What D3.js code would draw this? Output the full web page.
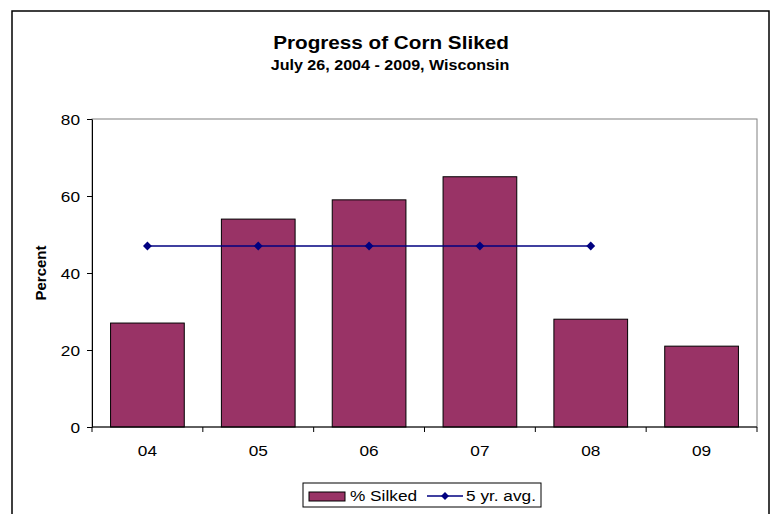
<!DOCTYPE html>
<html>
<head>
<meta charset="utf-8">
<title>Progress of Corn Silked</title>
<style>
  body { margin: 0; background: #fff; }
  svg text { font-family: 'Liberation Sans', Arial, sans-serif; fill: #000; }
</style>
<script src="https://d3js.org/d3.v7.min.js"></script>
</head>
<body>
<svg id="chart" width="775" height="514"></svg>
<script>
// data
var years = ["04", "05", "06", "07", "08", "09"];
var silked = [27, 54, 59, 65, 28, 21];
var avgYears = ["04", "05", "06", "07", "08"];
var avg5 = [47, 47, 47, 47, 47];
var yTicks = [0, 20, 40, 60, 80];

var svg = d3.select("#chart");
var pl = 92, pr = 757, pt = 119, pb = 427;
var SX = 1.15; // the original picture is a bit stretched sideways

// text helper, stretched horizontally like the reference
function label(g, x, y, str, size, anchor, bold) {
  return g.append("text")
    .attr("transform", "translate(" + x + "," + y + ") scale(" + SX + ",1)")
    .attr("text-anchor", anchor || "start")
    .attr("font-size", size)
    .attr("font-weight", bold ? "bold" : "normal")
    .text(str);
}

// outer frame (no bottom edge visible)
svg.append("path")
  .attr("d", "M12,520 V11 H769 V520")
  .attr("fill", "none")
  .attr("stroke", "#000")
  .attr("stroke-width", 1.5);

label(svg, 391, 49, "Progress of Corn Sliked", 18, "middle", true);
label(svg, 390, 70, "July 26, 2004 - 2009, Wisconsin", 14, "middle", true);

var x = d3.scaleBand().domain(years).range([pl, pr]).paddingInner(0.335).paddingOuter(0.1675);
var y = d3.scaleLinear().domain([0, 80]).range([pb, pt]);

// plot area border (grey)
svg.append("rect")
  .attr("x", pl).attr("y", pt).attr("width", pr - pl).attr("height", pb - pt)
  .attr("fill", "none").attr("stroke", "#808080").attr("stroke-width", 1);

// bars
svg.selectAll("rect.bar").data(silked).enter().append("rect")
  .attr("class", "bar")
  .attr("x", function(d, i) { return x(years[i]); })
  .attr("y", function(d) { return y(d); })
  .attr("width", x.bandwidth())
  .attr("height", function(d) { return y(0) - y(d); })
  .attr("fill", "#993366")
  .attr("stroke", "#000")
  .attr("stroke-width", 1);

// 5 yr avg line
var xc = function(k) { return x(k) + x.bandwidth() / 2; };
svg.append("path")
  .datum(avg5)
  .attr("fill", "none").attr("stroke", "#000080").attr("stroke-width", 1.5)
  .attr("d", d3.line().x(function(d, i) { return xc(avgYears[i]); }).y(function(d) { return y(d); }));
svg.selectAll("path.mk").data(avg5).enter().append("path")
  .attr("class", "mk")
  .attr("transform", function(d, i) { return "translate(" + xc(avgYears[i]) + "," + y(d) + ")"; })
  .attr("d", d3.symbol().type(d3.symbolDiamond2).size(50))
  .attr("fill", "#000080");

// y axis
var yAxis = svg.append("g").attr("transform", "translate(" + pl + ",0)")
  .call(d3.axisLeft(y).tickValues(yTicks).tickSize(5).tickSizeOuter(0));
yAxis.select(".domain").attr("stroke", "#000");
yAxis.selectAll(".tick text").remove();
yAxis.selectAll(".tick").each(function(d) {
  label(d3.select(this), -12, 5.5, d, 15, "end", false);
});

// x axis: ticks between categories
var xAxis = svg.append("g").attr("transform", "translate(0," + pb + ")");
xAxis.append("line").attr("x1", pl).attr("x2", pr).attr("stroke", "#000");
xAxis.selectAll("line.tk").data(d3.range(years.length + 1)).enter().append("line")
  .attr("class", "tk")
  .attr("x1", function(i) { return pl + i * (pr - pl) / years.length; })
  .attr("x2", function(i) { return pl + i * (pr - pl) / years.length; })
  .attr("y1", 0).attr("y2", 5).attr("stroke", "#000");
years.forEach(function(d) {
  label(xAxis, xc(d), 29, d, 15, "middle", false);
});

svg.append("text")
  .attr("transform", "translate(46," + ((pt + pb) / 2) + ") rotate(-90)")
  .attr("text-anchor", "middle").attr("font-size", 15).attr("font-weight", "bold")
  .text("Percent");

// legend
var lg = svg.append("g").attr("transform", "translate(303,483)");
lg.append("rect").attr("width", 238).attr("height", 24)
  .attr("fill", "#fff").attr("stroke", "#000").attr("stroke-width", 1);
lg.append("rect").attr("x", 6).attr("y", 9).attr("width", 36).attr("height", 9)
  .attr("fill", "#993366").attr("stroke", "#000");
label(lg, 47, 18, "% Silked", 15, "start", false);
lg.append("line").attr("x1", 124).attr("x2", 160).attr("y1", 13).attr("y2", 13)
  .attr("stroke", "#000080").attr("stroke-width", 1.5);
lg.append("path").attr("transform", "translate(142,13)")
  .attr("d", d3.symbol().type(d3.symbolDiamond2).size(40)).attr("fill", "#000080");
label(lg, 163, 18, "5 yr. avg.", 15, "start", false);
</script>
</body>
</html>
